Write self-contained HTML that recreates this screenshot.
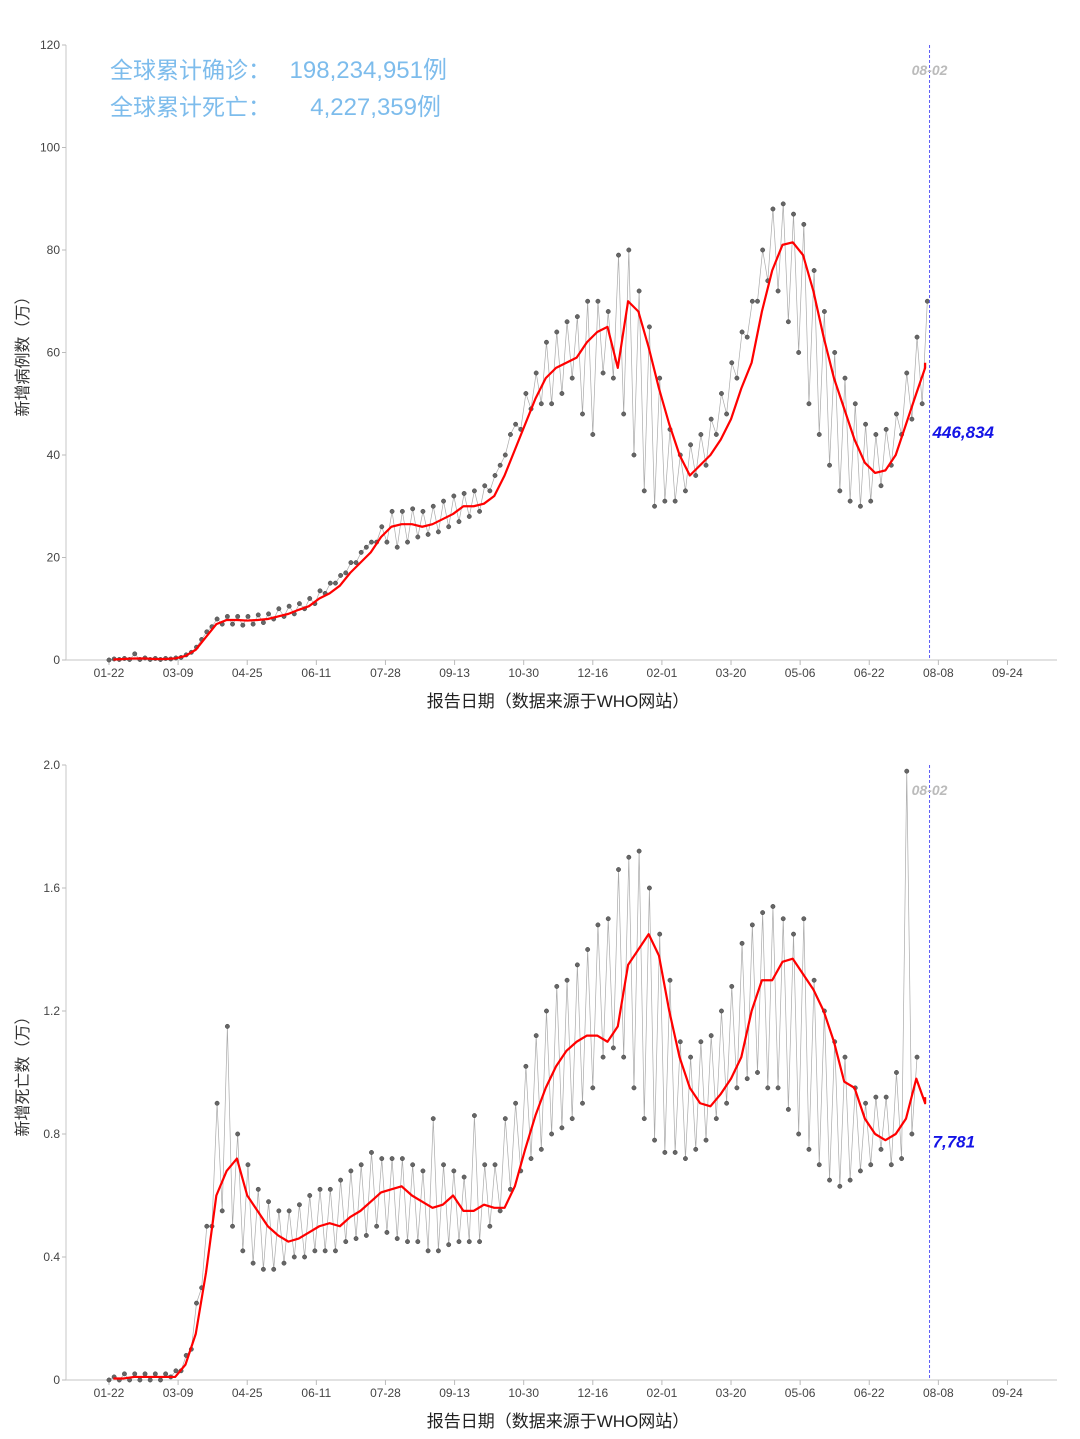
<!DOCTYPE html>
<html><head><meta charset="utf-8"><style>
body{margin:0;background:#fff;width:1080px;height:1439px;overflow:hidden;font-family:"Liberation Sans","Noto Sans CJK SC",sans-serif}
svg{position:absolute;left:0;top:0}
</style></head><body>
<svg id="svg" width="1080" height="1439">
<text x="110" y="78" font-size="23" fill="#7dbcec">全球累计确诊：</text>
<text x="447" y="78" font-size="24" fill="#7dbcec" text-anchor="end">198,234,951例</text>
<text x="110" y="115" font-size="23" fill="#7dbcec">全球累计死亡：</text>
<text x="441" y="115" font-size="24" fill="#7dbcec" text-anchor="end">4,227,359例</text>
</svg>
<script>
const tickLabels=["01-22","03-09","04-25","06-11","07-28","09-13","10-30","12-16","02-01","03-20","05-06","06-22","08-08","09-24"];
const casesAvg=[0.1,0.2,0.3,0.3,0.2,0.2,0.3,0.8,2,4.5,7,7.8,7.8,7.7,7.8,8,8.5,9,9.8,10.5,12,13,14.5,17,19,21,24,26,26.5,26.5,26,26.5,27.5,28.5,30,30,30.5,32,36,41,46,51,55,57,58,59,62,64,65,57,70,68,61,53,46,40,36,38,40,43,47,53,58,68,76,81,81.5,79,72,63,55,49,43,38.5,36.5,37,40,46,52,57,58];
const casesHi=[0.2,0.3,1.2,0.4,0.3,0.3,0.4,1,2.5,5.5,8,8.5,8.5,8.5,8.8,9,10,10.5,11,12,13.5,15,16.5,19,21,23,26,29,29,29.5,29,30,31,32,32.5,33,34,36,40,46,52,56,62,64,66,67,70,70,68,79,80,72,65,55,45,40,42,44,47,52,58,64,70,80,88,89,87,85,76,68,60,55,50,46,44,45,48,56,63,70];
const casesLo=[0,0.1,0.1,0.1,0.1,0.1,0.2,0.5,1.5,4,6.5,7,7,6.8,7,7.3,8,8.5,9,10,11,13,15,17,19,22,23,23,22,23,24,24.5,25,26,27,28,29,33,38,44,45,49,50,50,52,55,48,44,56,55,48,40,33,30,31,31,33,36,38,44,48,55,63,70,74,72,66,60,50,44,38,33,31,30,31,34,38,44,47,50];
const deathsAvg=[0.005,0.005,0.01,0.01,0.01,0.01,0.01,0.05,0.15,0.35,0.6,0.68,0.72,0.6,0.55,0.5,0.47,0.45,0.46,0.48,0.5,0.51,0.5,0.53,0.55,0.58,0.61,0.62,0.63,0.6,0.58,0.56,0.57,0.6,0.55,0.55,0.57,0.56,0.56,0.63,0.75,0.86,0.95,1.02,1.07,1.1,1.12,1.12,1.1,1.15,1.35,1.4,1.45,1.38,1.2,1.05,0.95,0.9,0.89,0.93,0.98,1.05,1.2,1.3,1.3,1.36,1.37,1.32,1.27,1.2,1.1,0.97,0.95,0.85,0.8,0.78,0.8,0.85,0.98,0.9,0.92];
const deathsHi=[0.01,0.02,0.02,0.02,0.02,0.02,0.03,0.08,0.25,0.5,0.9,1.15,0.8,0.7,0.62,0.58,0.55,0.55,0.57,0.6,0.62,0.62,0.65,0.68,0.7,0.74,0.72,0.72,0.72,0.7,0.68,0.85,0.7,0.68,0.66,0.86,0.7,0.7,0.85,0.9,1.02,1.12,1.2,1.28,1.3,1.35,1.4,1.48,1.5,1.66,1.7,1.72,1.6,1.45,1.3,1.1,1.05,1.1,1.12,1.2,1.28,1.42,1.48,1.52,1.54,1.5,1.45,1.5,1.3,1.2,1.1,1.05,0.95,0.9,0.92,0.92,1.0,1.98,1.05,0.95];
const deathsLo=[0,0,0,0,0,0,0.01,0.03,0.1,0.3,0.5,0.55,0.5,0.42,0.38,0.36,0.36,0.38,0.4,0.4,0.42,0.42,0.42,0.45,0.46,0.47,0.5,0.48,0.46,0.45,0.45,0.42,0.42,0.44,0.45,0.45,0.45,0.5,0.55,0.62,0.68,0.72,0.75,0.8,0.82,0.85,0.9,0.95,1.05,1.08,1.05,0.95,0.85,0.78,0.74,0.74,0.72,0.75,0.78,0.85,0.9,0.95,0.98,1.0,0.95,0.95,0.88,0.8,0.75,0.7,0.65,0.63,0.65,0.68,0.7,0.75,0.7,0.72,0.8];
const casesTicks=[0,20,40,60,80,100,120];
const deathsTicks=[0,0.4,0.8,1.2,1.6,2.0];
const lastDay=558;
const latestCases=44.6834, latestDeaths=0.7781;

const svg=document.getElementById('svg');
const NS='http://www.w3.org/2000/svg';
function mk(tag,attrs,parent){const e=document.createElementNS(NS,tag);for(const k in attrs)e.setAttribute(k,attrs[k]);(parent||svg).appendChild(e);return e;}
const xDay=d=>109+d*1.4705;

function drawChart(name,y0,yTop,maxV,ticks,fmt,avg,hi,lo,latest,latestTxt,yTitle){
  const g=mk('g',{});
  
  
  const y=v=>y0-(v/maxV)*(y0-yTop);
  const ax=mk('line',{x1:66,y1:y0,x2:1057,y2:y0,stroke:'#d0d0d0','stroke-width':1.2},g);
  
  
  const ay=mk('line',{x1:66,y1:y0,x2:66,y2:yTop,stroke:'#d0d0d0','stroke-width':1.2},g);
  
  
  ticks.forEach(t=>{
    mk('line',{x1:62,x2:66,y1:y(t),y2:y(t),stroke:'#bbb'},g);
    const tx=mk('text',{x:60,y:y(t)+4,'text-anchor':'end','font-size':12,fill:'#444'},g);
    tx.textContent=fmt(t);
    
    
  });
  tickLabels.forEach((l,i)=>{
    const xx=xDay(i*47);
    mk('line',{x1:xx,x2:xx,y1:y0,y2:y0+5,stroke:'#bbb'},g);
    const tx=mk('text',{x:xx,y:y0+17,'text-anchor':'middle','font-size':12,fill:'#444'},g);
    tx.textContent=l;
    
    
  });
  const xt=mk('text',{x:558,y:y0+47,'text-anchor':'middle','font-size':17,fill:'#222'},g);
  xt.textContent='报告日期（数据来源于WHO网站）';
  
  
  const ym=(y0+yTop)/2;
  const yt=mk('text',{x:28,y:ym,'text-anchor':'middle','font-size':16,fill:'#333',transform:`rotate(-90 28 ${ym})`},g);
  yt.textContent=yTitle;
  
  
  const n=Math.min(hi.length,lo.length);
  let pts=[];
  for(let i=0;i<n;i++){pts.push([xDay(i*7),y(lo[i])]);pts.push([xDay(i*7+3.5),y(hi[i])]);}
  pts=pts.filter(p=>p[0]<=xDay(lastDay));
  const raw=mk('polyline',{points:pts.map(p=>p.join(',')).join(' '),fill:'none',stroke:'#aaa','stroke-width':0.7},g);
  
  
  pts.forEach(p=>{
    const c=mk('circle',{cx:p[0],cy:p[1],r:2.2,fill:'#666',stroke:'#333','stroke-width':0.4},g);
    
    
  });
  const ap=avg.map((v,i)=>[Math.min(xDay(i*7+3),xDay(lastDay-3)),y(v)].join(',')).join(' ');
  const al=mk('polyline',{points:ap,fill:'none',stroke:'#f00','stroke-width':2.2,'stroke-linejoin':'round'},g);
  
  
  const xl=xDay(lastDay);
  const dl=mk('line',{x1:xl,x2:xl,y1:yTop,y2:y0,stroke:'#5b5bf5','stroke-width':1,'stroke-dasharray':'3,2'},g);
  
  
  const dt=mk('text',{x:xl,y:yTop+30,'text-anchor':'middle','font-size':14,'font-style':'italic','font-weight':'bold',fill:'#bbb'},g);
  dt.textContent='08-02';
  
  
  const vl=mk('text',{x:xl+3,y:y(latest)+7,'font-size':17,'font-style':'italic','font-weight':'bold',fill:'#1414e6'},g);
  vl.textContent=latestTxt;
  
  
}
drawChart('cases-chart',660,45,120,casesTicks,t=>String(t),casesAvg,casesHi,casesLo,latestCases,'446,834','新增病例数（万）');
drawChart('deaths-chart',1380,765,2,deathsTicks,t=>t===0?'0':t.toFixed(1),deathsAvg,deathsHi,deathsLo,latestDeaths,'7,781','新增死亡数（万）');
</script>
</body></html>
